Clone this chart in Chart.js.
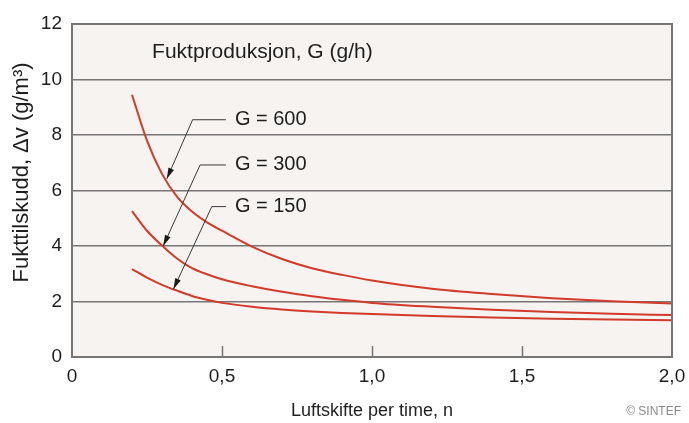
<!DOCTYPE html>
<html>
<head>
<meta charset="utf-8">
<script src="https://cdn.jsdelivr.net/npm/chart.js@4.4.1/dist/chart.umd.min.js"></script>
<style>
  html, body { margin: 0; padding: 0; background: #fff; }
  #wrap { width: 689px; height: 423px; }
</style>
</head>
<body>
<div id="wrap"><canvas id="chart" width="689" height="423"></canvas></div>
<script>
// luftskifte per time (n) and fukttilskudd (g/m3)
const airChanges = [0.2, 0.25, 0.3, 0.35, 0.4, 0.45, 0.5, 0.6, 0.7, 0.8, 0.9, 1.0, 1.2, 1.4, 1.6, 1.8, 2.0];
const g600 = [9.45, 7.8, 6.6, 5.78, 5.24, 4.85, 4.55, 3.98, 3.53, 3.2, 2.96, 2.76, 2.46, 2.27, 2.12, 2.01, 1.93];
const g300 = [5.26, 4.55, 4.02, 3.55, 3.2, 2.98, 2.8, 2.55, 2.35, 2.19, 2.06, 1.95, 1.81, 1.7, 1.62, 1.56, 1.51];
const g150 = [3.17, 2.86, 2.6, 2.39, 2.2, 2.06, 1.95, 1.81, 1.71, 1.64, 1.59, 1.55, 1.48, 1.42, 1.38, 1.35, 1.32];
const seriesNames = ['G = 600', 'G = 300', 'G = 150'];
const xTickLabels = ['0', '0,5', '1,0', '1,5', '2,0'];
const yTickLabels = ['0', '2', '4', '6', '8', '10', '12'];

const FONT = "'Liberation Sans', Arial, sans-serif";
const gridColor = '#767676';
const curveColor = '#d23a29';
const textColor = '#1e1e1e';

// leader lines for the curve labels, in data units
const leaders = [
  { text: seriesNames[0], at: [0.543, 8.55], elbow: [0.402, 8.55], tip: [0.316, 6.42] },
  { text: seriesNames[1], at: [0.543, 6.92], elbow: [0.427, 6.92], tip: [0.304, 4.0] },
  { text: seriesNames[2], at: [0.543, 5.42], elbow: [0.466, 5.42], tip: [0.338, 2.44] }
];

function toPoints(vals) {
  return vals.map((v, i) => ({ x: airChanges[i], y: v }));
}

const decorations = {
  id: 'decorations',
  beforeDraw(chart) {
    const { ctx, chartArea: a } = chart;
    ctx.save();
    ctx.fillStyle = '#f6f3f1';
    ctx.fillRect(a.left, a.top, a.right - a.left, a.bottom - a.top);
    ctx.restore();
  },
  afterDatasetsDraw(chart) {
    const { ctx, chartArea: a, scales: { x, y } } = chart;
    ctx.save();

    // frame + short inside ticks on the n axis
    ctx.strokeStyle = gridColor;
    ctx.lineWidth = 2;
    ctx.strokeRect(a.left, a.top, a.right - a.left, a.bottom - a.top);
    ctx.lineWidth = 1.5;
    x.ticks.forEach(t => {
      if (t.value <= x.min || t.value >= x.max) return;
      const px = Math.round(x.getPixelForValue(t.value)) + 0.5;
      ctx.beginPath();
      ctx.moveTo(px, a.bottom);
      ctx.lineTo(px, a.bottom - 11);
      ctx.stroke();
    });

    // heading inside the plot
    ctx.fillStyle = textColor;
    ctx.font = '21px ' + FONT;
    ctx.textAlign = 'left';
    ctx.textBaseline = 'middle';
    ctx.fillText('Fuktproduksjon, G (g/h)', x.getPixelForValue(0.267), y.getPixelForValue(11));

    // curve labels with arrows
    ctx.font = '20px ' + FONT;
    leaders.forEach(l => {
      const tx = x.getPixelForValue(l.at[0]);
      const ty = y.getPixelForValue(l.at[1]);
      const ex = x.getPixelForValue(l.elbow[0]);
      const ey = y.getPixelForValue(l.elbow[1]);
      const px = x.getPixelForValue(l.tip[0]);
      const py = y.getPixelForValue(l.tip[1]);
      ctx.fillStyle = textColor;
      ctx.fillText(l.text, tx, ty);

      ctx.strokeStyle = '#3a3a3a';
      ctx.lineWidth = 1;
      ctx.beginPath();
      ctx.moveTo(tx - 9, ey);
      ctx.lineTo(ex, ey);
      ctx.lineTo(px, py);
      ctx.stroke();

      const ang = Math.atan2(py - ey, px - ex);
      const len = 11, half = 3;
      ctx.fillStyle = '#1a1a1a';
      ctx.beginPath();
      ctx.moveTo(px, py);
      ctx.lineTo(px - len * Math.cos(ang) + half * Math.sin(ang), py - len * Math.sin(ang) - half * Math.cos(ang));
      ctx.lineTo(px - len * Math.cos(ang) - half * Math.sin(ang), py - len * Math.sin(ang) + half * Math.cos(ang));
      ctx.closePath();
      ctx.fill();
    });

    // y axis title
    ctx.save();
    ctx.translate(22, y.getPixelForValue(6.65));
    ctx.rotate(-Math.PI / 2);
    ctx.textAlign = 'center';
    ctx.fillStyle = textColor;
    ctx.font = '22px ' + FONT;
    ctx.fillText('Fukttilskudd, \u0394v (g/m\u00B3)', 0, 0);
    ctx.restore();

    // credit
    ctx.font = '12px ' + FONT;
    ctx.fillStyle = '#8a8a8a';
    ctx.textAlign = 'right';
    ctx.fillText('\u00A9 SINTEF', 681, 412);
    ctx.restore();
  }
};

Chart.defaults.font.family = FONT;
Chart.defaults.color = textColor;

new Chart(document.getElementById('chart'), {
  type: 'line',
  data: {
    datasets: [g600, g300, g150].map((vals, i) => ({
      label: seriesNames[i],
      data: toPoints(vals),
      borderColor: curveColor,
      borderWidth: 2,
      pointRadius: 0,
      fill: false,
      cubicInterpolationMode: 'monotone'
    }))
  },
  options: {
    responsive: false,
    animation: false,
    layout: { padding: { left: 0, right: 17, top: 24, bottom: 0 } },
    plugins: { legend: { display: false }, tooltip: { enabled: false } },
    scales: {
      x: {
        type: 'linear',
        min: 0,
        max: 2,
        grid: { display: false },
        border: { display: false },
        ticks: {
          stepSize: 0.5,
          padding: 0,
          font: { size: 19 },
          color: textColor,
          callback: (v, i) => xTickLabels[i]
        },
        title: {
          display: true,
          text: 'Luftskifte per time, n',
          font: { size: 18 },
          color: textColor,
          padding: { top: 0, bottom: 1 }
        },
        afterFit: s => { s.height = 66; }
      },
      y: {
        min: 0,
        max: 12,
        grid: { color: gridColor, lineWidth: 1.5, drawTicks: false },
        border: { display: false },
        ticks: {
          stepSize: 2,
          padding: 10,
          font: { size: 19 },
          color: textColor,
          callback: (v, i) => yTickLabels[i]
        },
        afterFit: s => { s.width = 72; }
      }
    }
  },
  plugins: [decorations]
});
</script>
</body>
</html>
